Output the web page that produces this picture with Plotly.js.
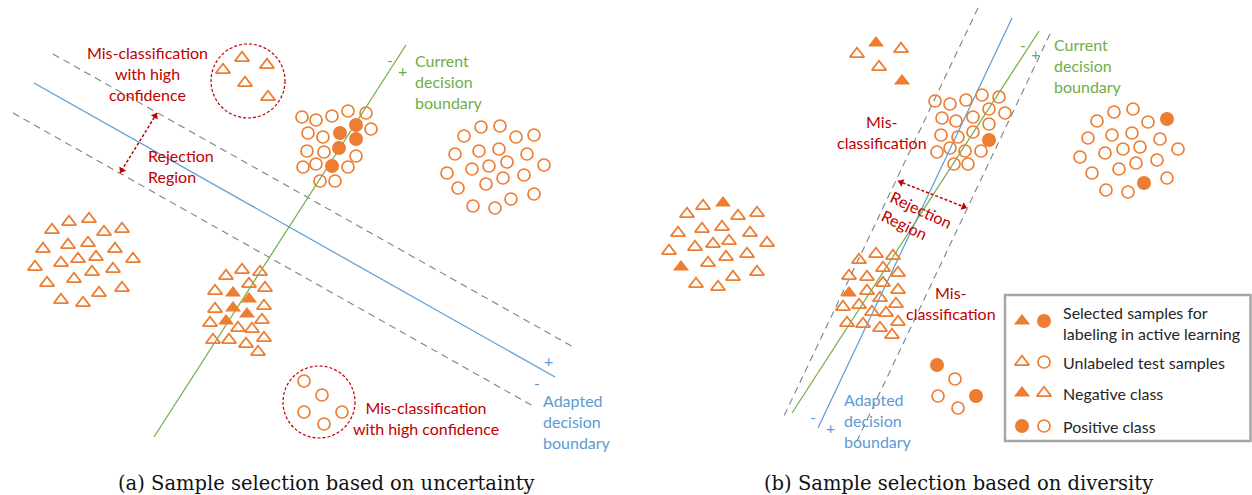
<!DOCTYPE html>
<html>
<head>
<meta charset="utf-8">
<script src="https://cdn.plot.ly/plotly-3.0.1.min.js"></script>
<style>
html,body{margin:0;padding:0;background:#fff;}
#chart{width:1252px;height:495px;}
</style>
</head>
<body>
<div id="chart"></div>
<script>
// ---------- DATA (pixel-like coordinates) ----------
// Panel (a): sample selection based on uncertainty
const a_negCloudX = [52,69,89,104,122,43,68,88,115,133,35,61,78,96,92,113,47,74,122,99,61,83];
const a_negCloudY = [230,222,219,232,229,249,245,243,249,259,267,263,259,257,272,269,283,279,288,293,300,303];
const a_negBndOpenX = [226,242,260,249,265,215,264,215,262,210,238,252,213,229,246,264,258];
const a_negBndOpenY = [276,270,272,284,288,291,306,309,320,323,328,329,340,340,344,338,352];
const a_negBndSelX = [233,249,233,247,226];
const a_negBndSelY = [293,299,308,314,321];
const a_negOutX = [223,242,267,245,268];
const a_negOutY = [70,58,65,83,97];
const a_posBndOpenX = [302,316,332,348,366,308,323,371,307,324,356,303,316,348,320,335];
const a_posBndOpenY = [117,120,116,111,113,133,137,129,151,152,156,167,164,167,181,181];
const a_posBndSelX = [356,340,356,339,332];
const a_posBndSelY = [125,133,139,148,166];
const a_posCloudX = [464,481,500,516,534,455,479,499,527,472,489,507,544,447,503,486,524,458,534,511,473,495];
const a_posCloudY = [136,127,126,137,135,154,151,149,154,169,166,162,165,173,178,184,175,188,194,199,206,208];
const a_posOutX = [304,322,304,342,324];
const a_posOutY = [381,395,412,412,424];

const a_currentX = [406,154],  a_currentY = [45,437];
const a_adaptedX = [34,555],   a_adaptedY = [83,377];
const a_rejUpperX = [53,575],  a_rejUpperY = [54,348];
const a_rejLowerX = [13,533],  a_rejLowerY = [113,406];
const a_arrowX = [157,120],    a_arrowY = [113,173];
const a_outlierCircleCX = [248,319], a_outlierCircleCY = [81,402], a_outlierCircleR = [37,36];

// Panel (b): sample selection based on diversity
const b_negOutOpenX = [857,901,879], b_negOutOpenY = [54,49,67];
const b_negOutSelX = [876,902],      b_negOutSelY = [43,81];
const b_negCloudOpenX = [687,703,738,757,678,702,722,750,669,695,713,729,767,726,747,708,757,733,696,718];
const b_negCloudOpenY = [214,206,216,213,233,229,227,233,251,247,244,241,243,257,254,263,272,277,284,287];
const b_negCloudSelX = [723,681], b_negCloudSelY = [203,267];
const b_negBndOpenX = [859,876,893,849,867,883,898,883,867,898,880,843,859,896,872,886,847,863,880,898,892];
const b_negBndOpenY = [260,254,256,276,277,268,273,283,291,290,298,307,305,304,312,313,323,324,328,322,335];
const b_negBndSelX = [849], b_negBndSelY = [293];
const b_posBndOpenX = [935,950,966,982,999,942,956,973,989,1005,941,958,973,989,950,937,965,981,954,968];
const b_posBndOpenY = [101,104,100,95,97,118,121,117,109,113,135,137,132,124,148,152,151,151,164,164];
const b_posBndSelX = [989], b_posBndSelY = [140];
const b_posCloudOpenX = [1097,1114,1133,1148,1088,1112,1132,1160,1123,1140,1178,1080,1105,1136,1157,1119,1092,1167,1106,1128];
const b_posCloudOpenY = [121,112,109,122,138,135,133,139,149,147,149,157,153,163,160,169,173,178,190,192];
const b_posCloudSelX = [1167,1144], b_posCloudSelY = [119,183];
const b_posOutOpenX = [955,938,958], b_posOutOpenY = [379,396,408];
const b_posOutSelX = [937,976],      b_posOutSelY = [365,396];

const b_currentX = [1039,792], b_currentY = [31,413];
const b_adaptedX = [1012,818], b_adaptedY = [18,428];
const b_rejLeftX = [978,783],  b_rejLeftY = [8,418];
const b_rejRightX = [1050,855], b_rejRightY = [34,445];
const b_arrowX = [898,967],    b_arrowY = [181,208];

// Legend (panel b)
const legendLabels = ['Selected samples for<br>labeling in active learning','Unlabeled test samples','Negative class','Positive class'];
const legendRowY = [321,362,393,426];
const legendSym1 = ['triangle-up','triangle-up-open','triangle-up','circle'];
const legendSym2 = ['circle','circle-open','triangle-up-open','circle-open'];

const captions = ['(a) Sample selection based on uncertainty','(b) Sample selection based on diversity'];

// ---------- STYLE ----------
const ORANGE = '#ED7D31', RED = '#C00000', GREEN = '#70AD47', BLUE = '#5B9BD5', GRAY = '#808080';
const TXT = 'Lato, "Noto Sans", sans-serif';
const FS = 16;
const HEAD = 7; // arrowhead marker size

const traces = [];
const ann = [];
function line(x, y, color, dash, width){
  traces.push({type:'scatter', mode:'lines', x:x, y:y, hoverinfo:'skip', cliponaxis:false,
    line:{color:color, width:width||1.2, dash:dash||'solid'}});
}
function dblArrow(x, y){
  traces.push({type:'scatter', mode:'lines', x:x, y:y, hoverinfo:'skip', cliponaxis:false,
    line:{color:RED, width:1.5, dash:'3px,2px'}});
  const dx = x[1]-x[0], dy = y[1]-y[0], L = Math.hypot(dx,dy);
  const ux = dx/L, uy = dy/L;
  const r = HEAD/2;
  // head at end 1 points along +u, head at end 0 points along -u (screen y grows downward)
  const hx = [x[1]-ux*r, x[0]+ux*r], hy = [y[1]-uy*r, y[0]+uy*r];
  const ang = [Math.atan2(ux, -uy)*180/Math.PI, Math.atan2(-ux, uy)*180/Math.PI];
  traces.push({type:'scatter', mode:'markers', x:hx, y:hy, hoverinfo:'skip', cliponaxis:false,
    marker:{symbol:'triangle-up', size:HEAD, angle:ang, color:RED, line:{width:0}}});
}
function pts(x, y, symbol, size, filled){
  traces.push({type:'scatter', mode:'markers', x:x, y:y, hoverinfo:'skip', cliponaxis:false,
    marker:{symbol:symbol, size:size, color:ORANGE,
            line:{color:ORANGE, width: filled ? 0 : 1.7}}});
}

// lines
line(a_rejUpperX, a_rejUpperY, GRAY, '7px,5px', 1.1);
line(a_rejLowerX, a_rejLowerY, GRAY, '7px,5px', 1.1);
line(a_adaptedX, a_adaptedY, BLUE, 'solid', 1.2);
line(a_currentX, a_currentY, GREEN, 'solid', 1.2);
line(b_rejLeftX, b_rejLeftY, GRAY, '7px,5px', 1.1);
line(b_rejRightX, b_rejRightY, GRAY, '7px,5px', 1.1);
line(b_adaptedX, b_adaptedY, BLUE, 'solid', 1.2);
line(b_currentX, b_currentY, GREEN, 'solid', 1.2);
dblArrow(a_arrowX, a_arrowY);
dblArrow(b_arrowX, b_arrowY);

// points
const openTriX = [].concat(a_negCloudX, a_negBndOpenX, a_negOutX, b_negOutOpenX, b_negCloudOpenX, b_negBndOpenX);
const openTriY = [].concat(a_negCloudY, a_negBndOpenY, a_negOutY, b_negOutOpenY, b_negCloudOpenY, b_negBndOpenY);
const selTriX = [].concat(a_negBndSelX, b_negOutSelX, b_negCloudSelX, b_negBndSelX);
const selTriY = [].concat(a_negBndSelY, b_negOutSelY, b_negCloudSelY, b_negBndSelY);
const openCirX = [].concat(a_posBndOpenX, a_posCloudX, a_posOutX, b_posBndOpenX, b_posCloudOpenX, b_posOutOpenX);
const openCirY = [].concat(a_posBndOpenY, a_posCloudY, a_posOutY, b_posBndOpenY, b_posCloudOpenY, b_posOutOpenY);
const selCirX = [].concat(a_posBndSelX, b_posBndSelX, b_posCloudSelX, b_posOutSelX);
const selCirY = [].concat(a_posBndSelY, b_posBndSelY, b_posCloudSelY, b_posOutSelY);

pts(openTriX, openTriY, 'triangle-up-open', 12.5, false);
pts(selTriX, selTriY, 'triangle-up', 14, true);
pts(openCirX, openCirY, 'circle-open', 12, false);
pts(selCirX, selCirY, 'circle', 14, true);

// legend symbols
legendRowY.forEach((ry,i)=>{
  [[1022,legendSym1[i]],[1044,legendSym2[i]]].forEach(([lx,sym])=>{
    const filled = sym.indexOf('open')<0;
    const isTri = sym.indexOf('triangle')===0;
    pts([lx],[ry], sym, isTri ? (filled?14:12.5) : (filled?14:12), filled);
  });
});

// ---------- ANNOTATIONS ----------
function txt(x, y, text, color, opts){
  ann.push(Object.assign({x:x, y:y, xref:'x', yref:'y', text:text, showarrow:false,
    xanchor:'center', yanchor:'middle', align:'center',
    font:{family:TXT, size:FS, color:color}}, opts||{}));
}
// panel a
txt(147, 73, 'Mis-classification<br>with high<br>confidence', RED);
txt(146, 166, 'Rejection<br>Region', RED, {xanchor:'left', align:'left'});
txt(390, 59, '-', GREEN);
txt(402, 70, '+', GREEN);
txt(413, 81, 'Current<br>decision<br>boundary', GREEN, {xanchor:'left', align:'left'});
txt(426, 418, 'Mis-classification<br>with high confidence', RED);
txt(548, 360, '+', BLUE);
txt(537, 382, '-', BLUE);
txt(541, 421, 'Adapted<br>decision<br>boundary', BLUE, {xanchor:'left', align:'left'});
// panel b
txt(882, 132, 'Mis-<br>classification', RED);
txt(1023, 44, '-', GREEN);
txt(1035, 53, '+', GREEN);
txt(1052, 65, 'Current<br>decision<br>boundary', GREEN, {xanchor:'left', align:'left'});
txt(917, 219, 'Rejection<br>Region', RED, {align:'left', textangle:25});
txt(951, 303, 'Mis-<br>classification', RED);
txt(813, 416, '-', BLUE);
txt(830, 427, '+', BLUE);
txt(842, 420, 'Adapted<br>decision<br>boundary', BLUE, {xanchor:'left', align:'left'});
legendRowY.forEach((ry,i)=>{
  txt(1061, i===0 ? 323 : ry, legendLabels[i], '#262626', {xanchor:'left', align:'left'});
});
// captions
const capFont = {family:'"DejaVu Serif", serif', size:19.5, color:'#111'};
txt(326, 483, captions[0], '#111', {font:capFont});
txt(958, 483, captions[1], '#111', {font:capFont});

// ---------- SHAPES ----------
const shapes = [];
a_outlierCircleCX.forEach((cx,i)=>{
  const r = a_outlierCircleR[i], cy = a_outlierCircleCY[i];
  shapes.push({type:'circle', xref:'x', yref:'y', x0:cx-r, x1:cx+r, y0:cy-r, y1:cy+r,
    line:{color:RED, width:1.2, dash:'3px,2px'}, layer:'below'});
});
shapes.push({type:'rect', xref:'x', yref:'y', x0:1005, x1:1250.5, y0:295, y1:441,
  line:{color:'#A6A6A6', width:2.5}, fillcolor:'rgba(255,255,255,0)', layer:'below'});

const layout = {
  width:1252, height:495,
  margin:{l:0,r:0,t:0,b:0},
  paper_bgcolor:'#fff', plot_bgcolor:'#fff',
  showlegend:false,
  xaxis:{range:[0,1252], visible:false, fixedrange:true},
  yaxis:{range:[495,0], visible:false, fixedrange:true},
  annotations:ann, shapes:shapes
};
Plotly.newPlot('chart', traces, layout, {staticPlot:true, displayModeBar:false});
</script>
</body>
</html>
